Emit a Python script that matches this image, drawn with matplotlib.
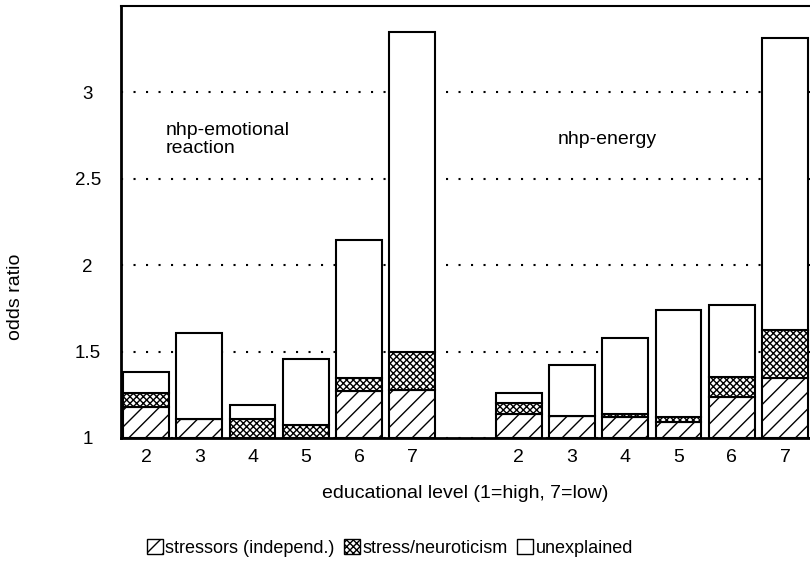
import matplotlib
matplotlib.use("Agg")
import matplotlib.pyplot as plt
from matplotlib.patches import Patch

plt.rcParams['font.family'] = ['Liberation Sans', 'DejaVu Sans']
plt.rcParams['hatch.linewidth'] = 1.0

# Educational levels shown in each panel
levels = ["2", "3", "4", "5", "6", "7"]

# Odds ratios relative to level 1, split into explained components (baseline = 1)
emo_stressors = [0.18, 0.11, 0.00, 0.00, 0.27, 0.28]
emo_neuro     = [0.08, 0.00, 0.11, 0.075, 0.075, 0.22]
emo_unexpl    = [0.12, 0.50, 0.08, 0.38, 0.80, 1.85]

nrg_stressors = [0.14, 0.13, 0.12, 0.09, 0.24, 0.345]
nrg_neuro     = [0.06, 0.00, 0.02, 0.03, 0.115, 0.28]
nrg_unexpl    = [0.06, 0.29, 0.44, 0.62, 0.415, 1.69]

yticks = [1, 1.5, 2, 2.5, 3]
ytick_labels = ["1", "1.5", "2", "2.5", "3"]

fig = plt.figure(figsize=(8.1, 5.63), dpi=100)
ax = fig.add_axes([121 / 810, 125 / 563, 1 - 121 / 810, (438 - 6) / 563])

pos_emo = list(range(0, 6))
pos_nrg = list(range(7, 13))
width = 0.86
base = 1.0


def stack(positions, s, n, u):
    b1 = [base] * len(s)
    b2 = [base + a for a in s]
    b3 = [base + a + c for a, c in zip(s, n)]
    ax.bar(positions, s, width, bottom=b1, facecolor="white",
           edgecolor="black", hatch="//", linewidth=1.5, zorder=3)
    ax.bar(positions, n, width, bottom=b2, facecolor="white",
           edgecolor="black", hatch="xxxxx", linewidth=1.5, zorder=3)
    ax.bar(positions, u, width, bottom=b3, facecolor="white",
           edgecolor="black", linewidth=1.5, zorder=3)


stack(pos_emo, emo_stressors, emo_neuro, emo_unexpl)
stack(pos_nrg, nrg_stressors, nrg_neuro, nrg_unexpl)

ax.set_xlim(-0.47, 12.47)
ax.set_ylim(1, 3.5)

ax.set_xticks(pos_emo + pos_nrg)
ax.set_xticklabels(levels + levels, fontsize=14)
ax.set_yticks(yticks)
ax.set_yticklabels(ytick_labels, fontsize=13.5)
for lab in ax.get_yticklabels():
    lab.set_horizontalalignment("center")
ax.tick_params(axis="y", length=0, pad=24)
ax.tick_params(axis="x", length=0, pad=8)

ax.yaxis.grid(True, color="black", linestyle=(0, (1, 5)), linewidth=1.5, zorder=1)
ax.set_axisbelow(True)

ax.spines["right"].set_visible(False)
ax.spines["left"].set_linewidth(2)
ax.spines["bottom"].set_linewidth(2)
ax.spines["top"].set_linewidth(1.5)

ax.text(0.36, 2.83, "nhp-emotional\nreaction", fontsize=14, va="top", ha="left",
        linespacing=1.12)
ax.text(7.74, 2.725, "nhp-energy", fontsize=14, va="center", ha="left")

fig.text(465 / 810, 1 - 493 / 563, "educational level (1=high, 7=low)", fontsize=14,
         ha="center", va="center")
fig.text(16 / 810, 1 - 297 / 563, "odds ratio", rotation=90, fontsize=14,
         ha="center", va="center")

handles = [
    Patch(facecolor="white", edgecolor="black", hatch="//", label="stressors (independ.)"),
    Patch(facecolor="white", edgecolor="black", hatch="xxxxx", label="stress/neuroticism"),
    Patch(facecolor="white", edgecolor="black", label="unexplained"),
]
fig.legend(handles=handles, loc="center", bbox_to_anchor=(390 / 810, 1 - 548 / 563),
           ncol=3, frameon=False, fontsize=13, handlelength=0.9, handleheight=0.9,
           handletextpad=0.15, columnspacing=0.5, borderpad=0, borderaxespad=0)

fig.savefig("out.png", dpi=100)
